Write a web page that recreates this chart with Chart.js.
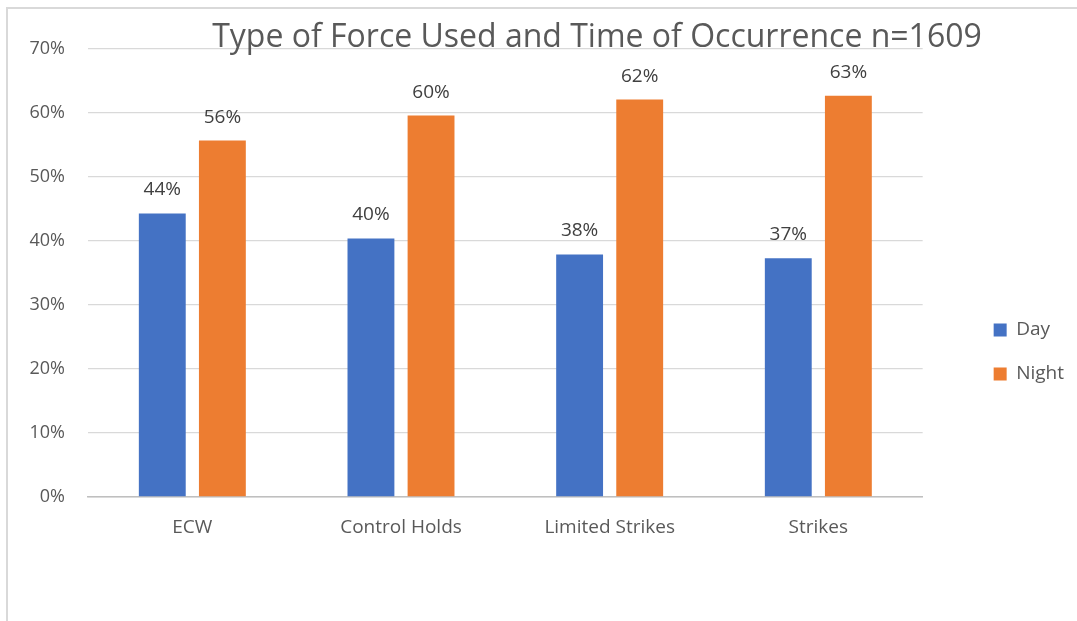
<!DOCTYPE html>
<html>
<head>
<meta charset="utf-8">
<script src="https://cdn.jsdelivr.net/npm/chart.js@4"></script>
<style>
  html, body { margin: 0; padding: 0; width: 1077px; height: 621px; overflow: hidden; background: #fff; }
  #frame { position: absolute; left: 6px; top: 7px; width: 1200px; height: 700px;
           border-left: 2px solid #d9d9d9; border-top: 2px solid #d9d9d9; }
  #wrap { position: absolute; left: 0; top: 0; width: 1077px; height: 655px; }
</style>
</head>
<body>
<div id="frame"></div>
<div id="wrap"><canvas id="forceChart" width="1077" height="655"></canvas></div>
<script>
const categories = ["ECW", "Control Holds", "Limited Strikes", "Strikes"];
const dayValues = [44.3, 40.4, 37.9, 37.3];
const nightValues = [55.7, 59.6, 62.1, 62.7];
const yTicks = [0, 10, 20, 30, 40, 50, 60, 70];
const titleText = "Type of Force Used and Time of Occurrence n=1609";

const FONT = "'Open Sans', sans-serif";
const GREY = "#595959";

// value labels above each bar
const barLabels = {
  id: "barLabels",
  afterDatasetsDraw(chart) {
    const ctx = chart.ctx;
    ctx.save();
    ctx.font = "19px " + FONT;
    ctx.fillStyle = "#404040";
    ctx.textAlign = "center";
    ctx.textBaseline = "alphabetic";
    chart.data.datasets.forEach((ds, i) => {
      chart.getDatasetMeta(i).data.forEach((bar, j) => {
        ctx.fillText(Math.round(ds.data[j]) + "%", bar.x, bar.y - 18);
      });
    });
    ctx.restore();
  }
};

// title sits over the top gridline
const overlayTitle = {
  id: "overlayTitle",
  afterDraw(chart) {
    const ctx = chart.ctx;
    ctx.save();
    ctx.font = "32px " + FONT;
    ctx.fillStyle = GREY;
    ctx.textAlign = "center";
    ctx.textBaseline = "alphabetic";
    ctx.fillText(titleText, 597, 47);
    ctx.restore();
  }
};

new Chart(document.getElementById("forceChart"), {
  type: "bar",
  data: {
    labels: categories,
    datasets: [
      { label: "Day", data: dayValues, backgroundColor: "#4472C4" },
      { label: "Night", data: nightValues, backgroundColor: "#ED7D31" }
    ]
  },
  options: {
    responsive: false,
    animation: false,
    layout: { padding: { top: 49, right: 3, bottom: 0, left: 0 } },
    datasets: { bar: { categoryPercentage: 0.576, barPercentage: 0.78 } },
    scales: {
      x: {
        grid: { display: false, drawTicks: false },
        border: { color: "#bfbfbf", width: 1.5 },
        ticks: { color: GREY, font: { family: FONT, size: 19 }, padding: 19 },
        afterFit: s => { s.height = 158; }
      },
      y: {
        min: 0, max: 70,
        afterBuildTicks: s => { s.ticks = yTicks.map(v => ({ value: v })); },
        grid: { color: "#d9d9d9", lineWidth: 1.3, drawTicks: false },
        border: { display: false },
        ticks: { color: GREY, font: { family: FONT, size: 18 }, padding: 23, callback: v => v + "%" },
        afterFit: s => { s.width = 88; }
      },
      gap: {
        type: "linear", axis: "y", position: "right",
        grid: { display: false, drawTicks: false },
        border: { display: false },
        ticks: { display: false },
        afterFit: s => { s.width = 46; }
      }
    },
    plugins: {
      title: { display: false },
      tooltip: { enabled: false },
      legend: {
        position: "right",
        labels: { boxWidth: 13, boxHeight: 13, padding: 25, color: GREY, font: { family: FONT, size: 19 } }
      }
    }
  },
  plugins: [barLabels, overlayTitle]
});
</script>
</body>
</html>
